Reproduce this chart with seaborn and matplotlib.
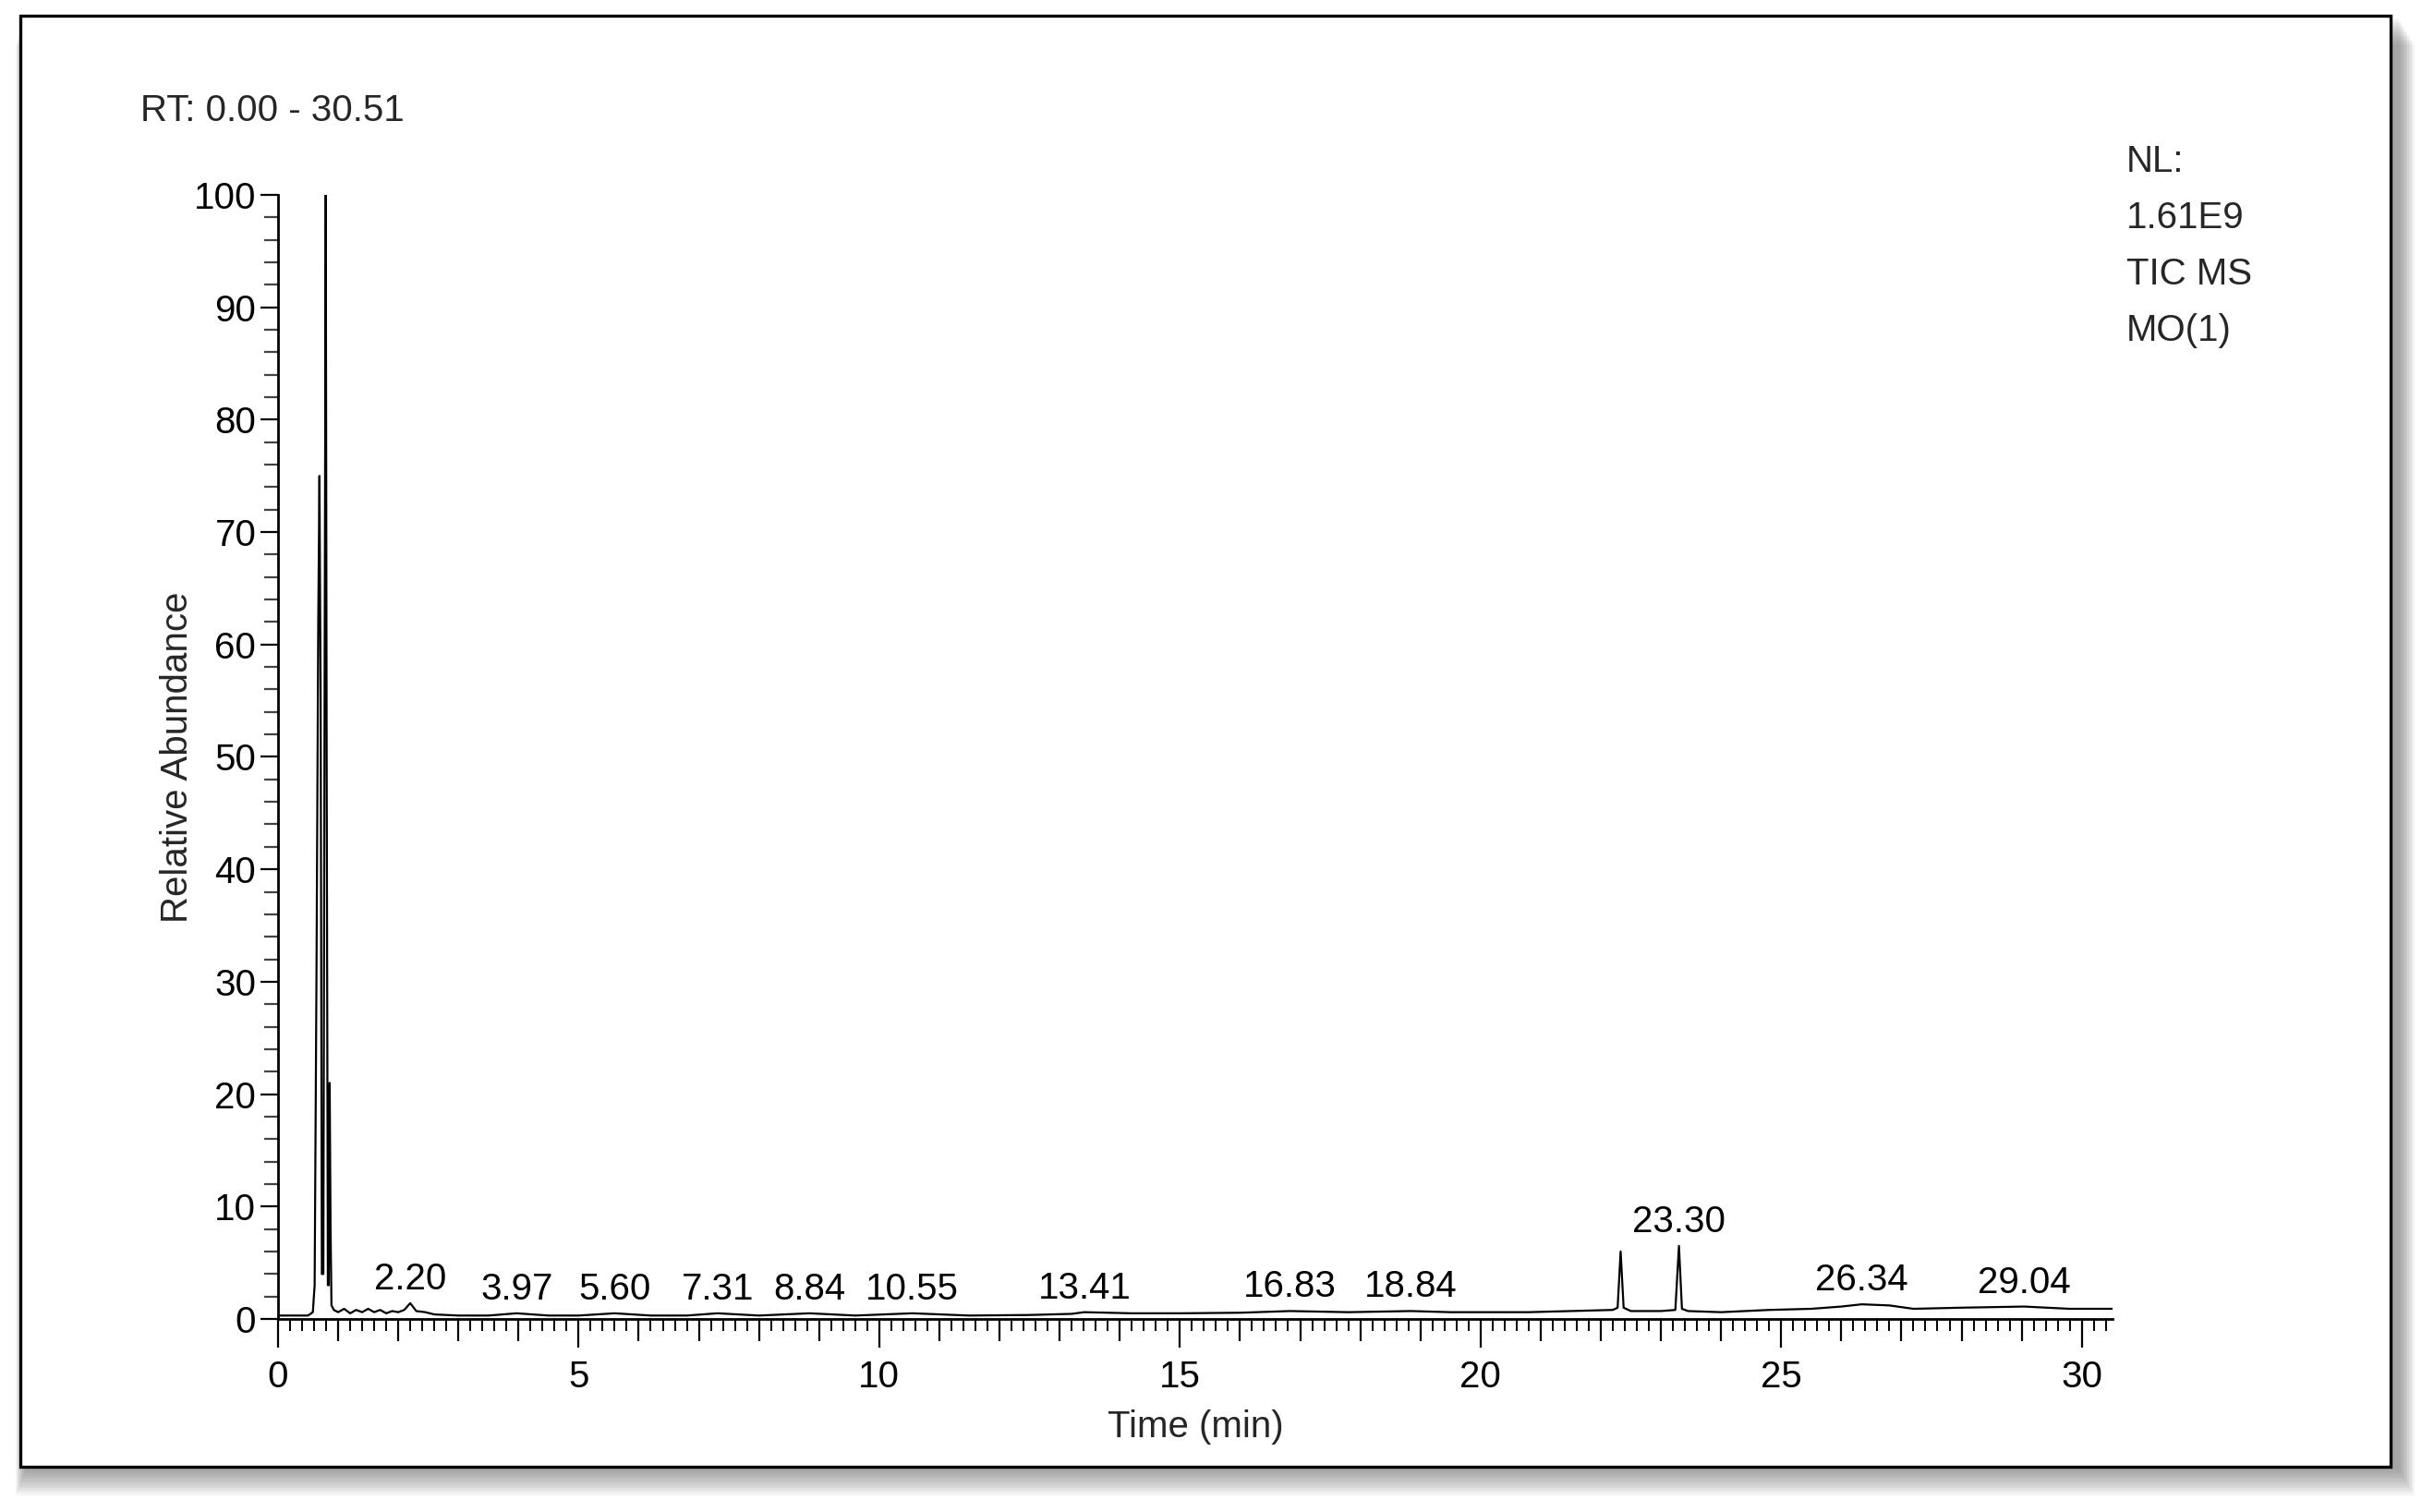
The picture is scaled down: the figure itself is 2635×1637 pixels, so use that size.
import numpy as np
import matplotlib
matplotlib.use('Agg')
import matplotlib.pyplot as plt
from matplotlib.patches import Rectangle
from matplotlib.ticker import FixedLocator, MultipleLocator, FuncFormatter
import seaborn as sns

# TIC trace: retention time (min) / relative abundance (%)
rt_min = [0.00, 0.50, 0.58, 0.61, 0.64, 0.67, 0.69, 0.71, 0.73, 0.755,
          0.775, 0.795, 0.81, 0.83, 0.845, 0.86, 0.875, 0.89, 0.93, 1.00,
          1.10, 1.20, 1.30, 1.40, 1.50, 1.60, 1.70, 1.80, 1.90, 2.00,
          2.10, 2.20, 2.30, 2.45, 2.60, 3.00, 3.50, 3.97, 4.50, 5.00,
          5.60, 6.20, 6.80, 7.31, 8.00, 8.84, 9.60, 10.55, 11.50, 12.50,
          13.20, 13.41, 14.20, 15.00, 16.00, 16.83, 17.80, 18.84, 19.50, 20.00,
          20.80, 21.50, 22.20, 22.28, 22.33, 22.38, 22.50, 23.00, 23.24, 23.30,
          23.35, 23.45, 24.00, 24.80, 25.50, 26.00, 26.34, 26.80, 27.20, 28.00,
          29.04, 29.80, 30.51]
rel_abundance = [0.3, 0.3, 0.6, 3.0, 30.0, 62.0, 75.0, 55.0, 4.0, 4.0,
                 55.0, 100.0, 50.0, 3.0, 3.0, 21.0, 8.0, 1.2, 0.8, 0.6,
                 0.9, 0.5, 0.8, 0.6, 0.9, 0.6, 0.8, 0.5, 0.7, 0.6,
                 0.8, 1.4, 0.7, 0.6, 0.4, 0.3, 0.3, 0.5, 0.3, 0.3,
                 0.5, 0.3, 0.3, 0.5, 0.3, 0.5, 0.3, 0.5, 0.3, 0.35,
                 0.45, 0.6, 0.5, 0.5, 0.55, 0.7, 0.6, 0.7, 0.6, 0.6,
                 0.6, 0.7, 0.8, 1.0, 6.0, 1.0, 0.7, 0.7, 0.8, 6.5,
                 0.9, 0.7, 0.6, 0.8, 0.9, 1.1, 1.3, 1.2, 0.9, 1.0,
                 1.1, 0.9, 0.9]

# labelled peaks
peak_rt = [2.20, 3.97, 5.60, 7.31, 8.84, 10.55, 13.41, 16.83, 18.84, 23.30, 26.34, 29.04]
peak_height = [1.4, 0.5, 0.5, 0.5, 0.5, 0.5, 0.6, 0.7, 0.7, 6.5, 1.3, 1.1]
peak_labels = ['2.20', '3.97', '5.60', '7.31', '8.84', '10.55',
               '13.41', '16.83', '18.84', '23.30', '26.34', '29.04']

x_major = [0, 5, 10, 15, 20, 25, 30]
y_major = [0, 10, 20, 30, 40, 50, 60, 70, 80, 90, 100]
info_lines = ['NL:', '1.61E9', 'TIC MS', 'MO(1)']

sns.set_style('ticks')
plt.rcParams['font.family'] = ['Liberation Sans', 'DejaVu Sans']
FS = 29

fig = plt.figure(figsize=(26.35, 16.37), dpi=100)
fig.patch.set_facecolor('white')

# outer frame with a soft drop shadow
x0, y0, w, h = 0.00835, 0.0299, 0.9739, 0.9597
px, py = 1 / 2635, 1 / 1637
for k in range(12):
    off = 3 + 2.5 * k
    fig.patches.append(Rectangle((x0 + 6 * px - k * px, y0 - off * py), w + off * px, h,
                                 transform=fig.transFigure, facecolor='#555555',
                                 edgecolor='none', alpha=0.06, zorder=-3))
fig.patches.append(Rectangle((x0, y0), w, h, transform=fig.transFigure,
                             facecolor='white', edgecolor='black', linewidth=2.4, zorder=-2))

ax = fig.add_axes([0.1142, 0.1277, 0.7537, 0.7434])
ax.patch.set_alpha(0)

sns.lineplot(x=rt_min, y=rel_abundance, ax=ax, color='black', linewidth=1.6, sort=False)

for t, v, lbl in zip(peak_rt, peak_height, peak_labels):
    ax.annotate(lbl, (t, v), xytext=(0, 5), textcoords='offset points',
                ha='center', va='bottom', fontsize=FS, color='black')

ax.set_xlim(0, 30.51)
ax.set_ylim(0, 100)
sns.despine(ax=ax)
for s in ['left', 'bottom']:
    ax.spines[s].set_linewidth(2)
    ax.spines[s].set_color('black')

# x: long ticks every 5 min, medium every minute, short every 0.2 min
ax.xaxis.set_major_locator(FixedLocator(np.arange(0, 31, 1)))
ax.xaxis.set_major_formatter(FuncFormatter(lambda v, p: f'{int(round(v))}' if round(v) in x_major else ''))
ax.xaxis.set_minor_locator(MultipleLocator(0.2))
ax.tick_params(axis='x', which='major', length=17, width=1.6, pad=15, labelsize=FS, colors='black')
ax.tick_params(axis='x', which='minor', length=9, width=1.4, color='black')
for tk, loc in zip(ax.xaxis.get_major_ticks(31), np.arange(0, 31, 1)):
    if loc in x_major:
        tk.tick1line.set_markersize(22)

ax.yaxis.set_major_locator(FixedLocator(y_major))
ax.yaxis.set_minor_locator(MultipleLocator(2))
ax.tick_params(axis='y', which='major', length=14, width=1.6, pad=3, labelsize=FS, colors='black')
ax.tick_params(axis='y', which='minor', length=11, width=1.6, color='#444444')

ax.set_xlabel('Time (min)', fontsize=FS)
ax.xaxis.set_label_coords(0.5, -0.0805)
ax.set_ylabel('Relative Abundance', fontsize=FS)
ax.yaxis.set_label_coords(-0.0453, 0.5)

fig.text(0.0577, 0.9267, 'RT: 0.00 - 30.51', fontsize=FS, ha='left', va='center')
for i, line in enumerate(info_lines):
    fig.text(0.8736, 1 - (175 + 61 * i) / 1637, line, fontsize=FS, ha='left', va='center')

fig.savefig('out.png', dpi=100, facecolor='white')
